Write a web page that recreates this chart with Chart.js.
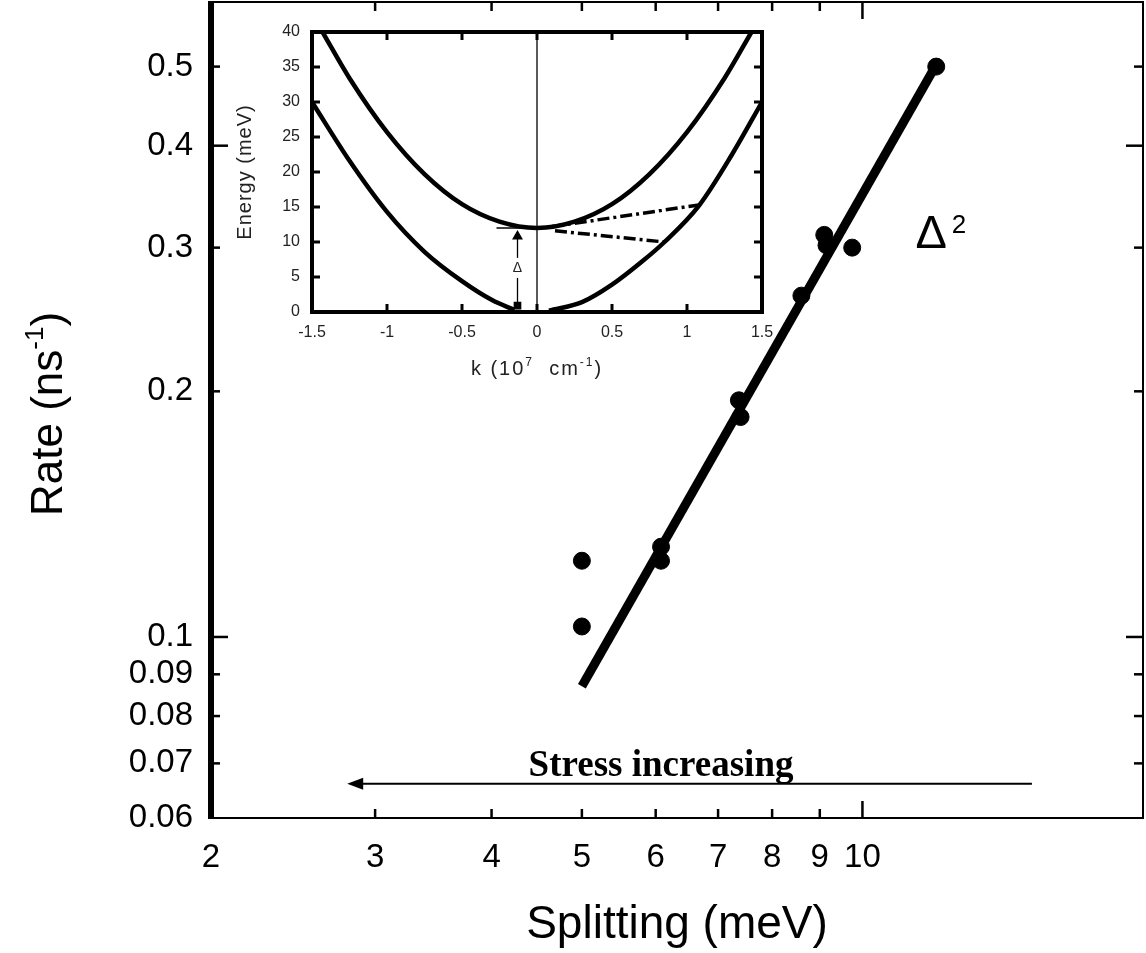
<!DOCTYPE html>
<html>
<head>
<meta charset="utf-8">
<script src="https://cdn.jsdelivr.net/npm/chart.js@4.4.0/dist/chart.umd.min.js"></script>
<style>
  html, body { margin: 0; padding: 0; background: #fff; }
  #wrap { position: relative; width: 1146px; height: 953px; }
  #mainChart { position: absolute; left: 0; top: 0; }
  #insetChart { position: absolute; left: 220px; top: 15px; }
</style>
</head>
<body>
<div id="wrap">
  <canvas id="mainChart" width="1146" height="953"></canvas>
  <canvas id="insetChart" width="570" height="380"></canvas>
</div>
<script>
// main panel: relaxation rate vs splitting (log-log)
const splitting = [5, 5, 6.08, 6.08, 7.37, 7.4, 8.6, 9.1, 9.15, 9.75, 12.0];
const rate = [0.103, 0.124, 0.124, 0.129, 0.195, 0.186, 0.262, 0.311, 0.302, 0.300, 0.500];
// Δ² fit, end points
const fitSplitting = [5, 12.05];
const fitRate = [0.087, 0.507];
const xTicks = [2, 3, 4, 5, 6, 7, 8, 9, 10];
const yTicks = [0.06, 0.07, 0.08, 0.09, 0.1, 0.2, 0.3, 0.4, 0.5];

// annotations (data coordinates)
const stressArrowX = [15.2, 2.8];
const stressArrowY = 0.0661;
const stressLabelAt = [6.08, 0.0676];
const deltaSqAt = [11.4, 0.300];

// inset: band dispersion E(k)
const kUpper = [-1.43, -1.25, -1.0, -0.75, -0.5, -0.25, 0, 0.25, 0.5, 0.75, 1.0, 1.25, 1.43];
const eUpper = [40, 33.4, 25.7, 19.7, 15.4, 12.9, 12, 12.9, 15.4, 19.7, 25.7, 33.4, 40];
const kLowerL = [-1.5, -1.25, -1.0, -0.75, -0.5, -0.3, -0.15];
const eLowerL = [30, 21.6, 14.3, 8.6, 4.4, 1.7, 0.3];
const kLowerR = [0.08, 0.3, 0.5, 0.7, 0.85, 1.08, 1.3, 1.5];
const eLowerR = [0.2, 1.4, 3.9, 7.2, 10, 15.2, 22.5, 30];
const kDashUp = [0.1, 1.08];
const eDashUp = [12.2, 15.3];
const kDashDown = [0.12, 0.85];
const eDashDown = [11.6, 10.0];
const kArrow = [-0.13, -0.13];
const eArrow = [0.9, 10.8];
const kLevel = [-0.27, 0];
const eLevel = [12, 12];
const insetXTicks = [-1.5, -1, -0.5, 0, 0.5, 1, 1.5];
const insetYTicks = [0, 5, 10, 15, 20, 25, 30, 35, 40];

const SANS = '"Liberation Sans", Arial, sans-serif';
const SERIF = '"Liberation Serif", "Times New Roman", serif';

const pts = (xs, ys) => xs.map((x, i) => ({ x, y: ys[i] }));

function seg(ctx, x1, y1, x2, y2) {
  ctx.beginPath();
  ctx.moveTo(x1, y1);
  ctx.lineTo(x2, y2);
  ctx.stroke();
}

// text made of pieces, some of them raised (superscripts); centred on x
function drawRich(ctx, parts, x, y, family) {
  let total = 0;
  parts.forEach(p => {
    ctx.font = (p.weight || '') + ' ' + p.size + 'px ' + family;
    p.w = ctx.measureText(p.t).width;
    total += p.w;
  });
  let cx = x - total / 2;
  ctx.textAlign = 'left';
  ctx.textBaseline = 'alphabetic';
  parts.forEach(p => {
    ctx.font = (p.weight || '') + ' ' + p.size + 'px ' + family;
    ctx.fillText(p.t, cx, y - (p.rise || 0));
    cx += p.w;
  });
}

// fixed axis sizes, and no extra room reserved for edge labels
const fixHeight = h => s => { s.height = h; s.paddingLeft = 0; s.paddingRight = 0; };
const fixWidth = w => s => { s.width = w; s.paddingTop = 0; s.paddingBottom = 0; };

// box round the plot area plus inward tick marks on all four sides
function frameTicks(cfg) {
  return {
    id: 'frameTicks',
    afterDraw(chart) {
      const { ctx, chartArea: a } = chart;
      const x = chart.scales.x, y = chart.scales.y;
      ctx.save();
      ctx.strokeStyle = '#000';
      ctx.lineCap = 'butt';
      ctx.lineWidth = cfg.tickWidth;
      cfg.xTicks.forEach(v => {
        const px = x.getPixelForValue(v);
        if (px < a.left + 3 || px > a.right - 3) return;
        const len = cfg.xMajor.includes(v) ? cfg.majorLen : cfg.minorLen;
        seg(ctx, px, a.bottom, px, a.bottom - len);
        seg(ctx, px, a.top, px, a.top + len);
      });
      cfg.yTicks.forEach(v => {
        const py = y.getPixelForValue(v);
        if (py < a.top + 3 || py > a.bottom - 3) return;
        const len = cfg.yMajor.includes(v) ? cfg.majorLen : cfg.minorLen;
        seg(ctx, a.left, py, a.left + len, py);
        seg(ctx, a.right, py, a.right - len, py);
      });
      const [wt, wr, wb, wl] = cfg.frame;
      ctx.lineWidth = wt; seg(ctx, a.left, a.top, a.right + wr / 2, a.top);
      ctx.lineWidth = wr; seg(ctx, a.right, a.top, a.right, a.bottom + wb / 2);
      ctx.lineWidth = wb; seg(ctx, a.left, a.bottom, a.right + wr / 2, a.bottom);
      ctx.lineWidth = wl; seg(ctx, a.left, a.top - wt / 2, a.left, a.bottom + wb / 2);
      ctx.restore();
    }
  };
}

const mainLabels = {
  id: 'mainLabels',
  afterDraw(chart) {
    const { ctx, chartArea: a } = chart;
    const x = chart.scales.x, y = chart.scales.y;
    ctx.save();
    ctx.fillStyle = '#000';
    ctx.strokeStyle = '#000';

    drawRich(ctx, [{ t: 'Splitting (meV)', size: 46 }], (a.left + a.right) / 2, 938, SANS);

    ctx.save();
    ctx.translate(62, (a.top + a.bottom) / 2 + 4);
    ctx.rotate(-Math.PI / 2);
    drawRich(ctx, [
      { t: 'Rate (ns', size: 44 },
      { t: '-1', size: 26, rise: 19 },
      { t: ')', size: 44 }
    ], 0, 0, SANS);
    ctx.restore();

    // Δ² next to the fit
    const dx = x.getPixelForValue(deltaSqAt[0]);
    const dy = y.getPixelForValue(deltaSqAt[1]);
    ctx.textAlign = 'left';
    ctx.textBaseline = 'alphabetic';
    ctx.font = '47px ' + SANS;
    ctx.fillText('\u0394', dx, dy);
    const dw = ctx.measureText('\u0394').width;
    ctx.font = '26px ' + SANS;
    ctx.fillText('2', dx + dw + 5, dy - 15);

    // stress arrow
    const ax1 = x.getPixelForValue(stressArrowX[0]);
    const ax2 = x.getPixelForValue(stressArrowX[1]);
    const ay = y.getPixelForValue(stressArrowY);
    ctx.lineWidth = 2;
    seg(ctx, ax1, ay, ax2 + 14, ay);
    ctx.beginPath();
    ctx.moveTo(ax2, ay);
    ctx.lineTo(ax2 + 16, ay - 6);
    ctx.lineTo(ax2 + 16, ay + 6);
    ctx.closePath();
    ctx.fill();

    const sx = x.getPixelForValue(stressLabelAt[0]);
    const sy = y.getPixelForValue(stressLabelAt[1]);
    drawRich(ctx, [{ t: 'Stress increasing', size: 37, weight: 'bold' }], sx, sy, SERIF);
    ctx.restore();
  }
};

new Chart(document.getElementById('mainChart'), {
  type: 'scatter',
  data: {
    datasets: [
      {
        label: 'Rate',
        data: pts(splitting, rate),
        backgroundColor: '#000',
        borderColor: '#000',
        pointRadius: 8.5,
        pointHoverRadius: 8.5,
        showLine: false
      },
      {
        label: 'fit',
        data: pts(fitSplitting, fitRate),
        borderColor: '#000',
        borderWidth: 9,
        pointRadius: 0,
        showLine: true
      }
    ]
  },
  options: {
    responsive: false,
    animation: false,
    events: [],
    layout: { autoPadding: false, padding: { left: 0, right: 3, top: 2, bottom: 0 } },
    plugins: { legend: { display: false }, tooltip: { enabled: false } },
    scales: {
      x: {
        type: 'logarithmic',
        min: 2,
        max: 20,
        grid: { display: false, drawTicks: false },
        border: { display: false },
        afterBuildTicks: s => { s.ticks = xTicks.map(v => ({ value: v })); },
        afterFit: fixHeight(135),
        ticks: {
          autoSkip: false,
          maxRotation: 0,
          padding: 20,
          color: '#000',
          font: { family: SANS, size: 33 },
          callback: v => String(v)
        }
      },
      y: {
        type: 'logarithmic',
        min: 0.06,
        max: 0.6,
        grid: { display: false, drawTicks: false },
        border: { display: false },
        afterBuildTicks: s => { s.ticks = yTicks.map(v => ({ value: v })); },
        afterFit: fixWidth(211),
        ticks: {
          autoSkip: false,
          padding: 18,
          color: '#000',
          font: { family: SANS, size: 33 },
          callback: v => String(v)
        }
      }
    }
  },
  plugins: [
    frameTicks({
      xTicks: xTicks, xMajor: [10],
      yTicks: yTicks, yMajor: [0.1, 0.4],
      majorLen: 17, minorLen: 9, tickWidth: 2.5,
      frame: [2, 2, 2, 6]
    }),
    mainLabels
  ]
});

const insetLabels = {
  id: 'insetLabels',
  afterDraw(chart) {
    const { ctx, chartArea: a } = chart;
    const x = chart.scales.x, y = chart.scales.y;
    ctx.save();
    ctx.fillStyle = '#222';
    ctx.letterSpacing = '1px';

    ctx.save();
    ctx.translate(31, (a.top + a.bottom) / 2);
    ctx.rotate(-Math.PI / 2);
    drawRich(ctx, [{ t: 'Energy (meV)', size: 20 }], 0, 0, SANS);
    ctx.restore();

    ctx.letterSpacing = '2px';
    drawRich(ctx, [
      { t: 'k (10', size: 20 },
      { t: '7', size: 12, rise: 9 },
      { t: '  cm', size: 20 },
      { t: '-1', size: 12, rise: 9 },
      { t: ')', size: 20 }
    ], (a.left + a.right) / 2, 360, SANS);
    ctx.letterSpacing = '0px';

    // Δ on the splitting arrow
    const px = x.getPixelForValue(kArrow[0]);
    const py = y.getPixelForValue(6.3);
    ctx.fillStyle = '#fff';
    ctx.fillRect(px - 6, py - 10, 12, 20);
    ctx.fillStyle = '#222';
    ctx.font = '14px ' + SANS;
    ctx.textAlign = 'center';
    ctx.textBaseline = 'middle';
    ctx.fillText('\u0394', px, py);
    ctx.restore();
  }
};

const curve = (data, width, dash) => ({
  data,
  borderColor: '#000',
  borderWidth: width,
  borderDash: dash || [],
  pointRadius: 0,
  showLine: true,
  cubicInterpolationMode: 'monotone'
});

new Chart(document.getElementById('insetChart'), {
  type: 'scatter',
  data: {
    datasets: [
      curve(pts(kUpper, eUpper), 4.5),
      curve(pts(kLowerL, eLowerL), 4.5),
      curve(pts(kLowerR, eLowerR), 4.5),
      curve(pts(kDashUp, eDashUp), 3.5, [12, 4, 3, 4]),
      curve(pts(kDashDown, eDashDown), 3.5, [12, 4, 3, 4]),
      curve(pts([0, 0], [0, 40]), 1.3),
      curve(pts(kLevel, eLevel), 1.3),
      {
        data: pts(kArrow, eArrow),
        borderColor: '#000',
        backgroundColor: '#000',
        borderWidth: 1.3,
        showLine: true,
        pointStyle: ['rect', 'triangle'],
        pointRadius: [4.5, 5],
        rotation: 0
      }
    ]
  },
  options: {
    responsive: false,
    animation: false,
    events: [],
    layout: { autoPadding: false, padding: { left: 0, right: 28, top: 17, bottom: 0 } },
    plugins: { legend: { display: false }, tooltip: { enabled: false } },
    scales: {
      x: {
        type: 'linear',
        min: -1.5,
        max: 1.5,
        grid: { display: false, drawTicks: false },
        border: { display: false },
        afterBuildTicks: s => { s.ticks = insetXTicks.map(v => ({ value: v })); },
        afterFit: fixHeight(83),
        ticks: {
          autoSkip: false,
          maxRotation: 0,
          padding: 11,
          color: '#222',
          font: { family: SANS, size: 16 },
          callback: v => String(v)
        }
      },
      y: {
        type: 'linear',
        min: 0,
        max: 40,
        grid: { display: false, drawTicks: false },
        border: { display: false },
        afterBuildTicks: s => { s.ticks = insetYTicks.map(v => ({ value: v })); },
        afterFit: fixWidth(92),
        ticks: {
          autoSkip: false,
          padding: 12,
          color: '#222',
          font: { family: SANS, size: 16 },
          callback: v => String(v)
        }
      }
    }
  },
  plugins: [
    frameTicks({
      xTicks: insetXTicks, xMajor: [],
      yTicks: insetYTicks, yMajor: [],
      majorLen: 8, minorLen: 8, tickWidth: 3,
      frame: [4, 4, 4, 4]
    }),
    insetLabels
  ]
});
</script>
</body>
</html>
